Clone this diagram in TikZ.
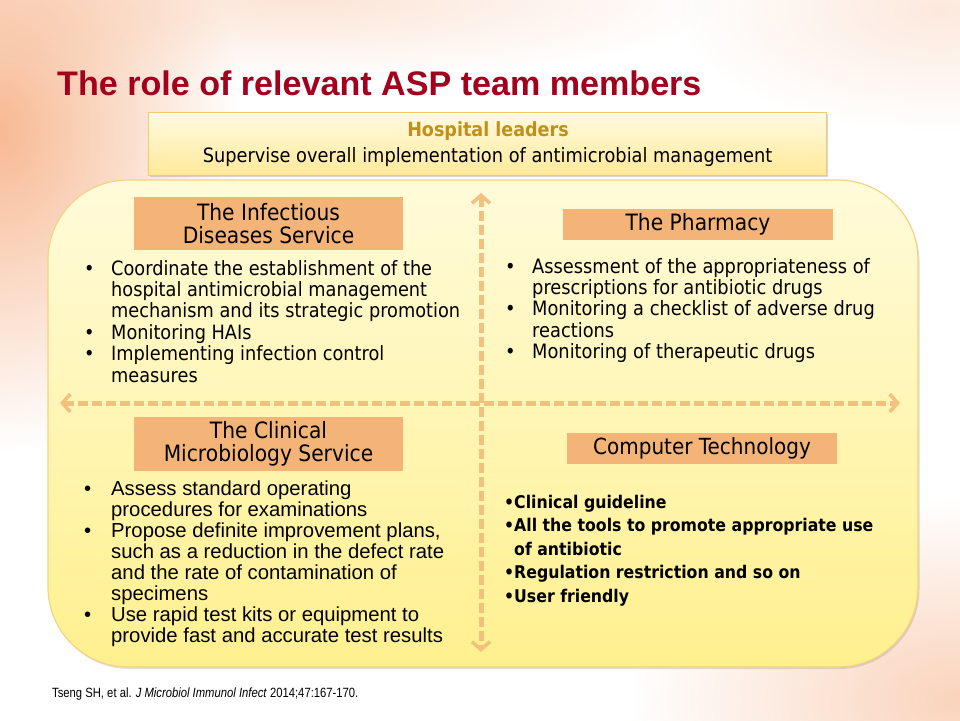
\documentclass[tikz,border=0pt]{standalone}
\usepackage{fontspec}
\setmainfont{Liberation Sans}
\newfontfamily\narrowf[FakeStretch=0.84]{Liberation Sans}
\newfontfamily\tahf[FakeStretch=0.9]{DejaVu Sans}
\usetikzlibrary{arrows.meta,fadings,shadows}
\definecolor{titlered}{HTML}{A3001E}
\definecolor{goldtext}{HTML}{C38F1A}
\definecolor{hdrfill}{HTML}{F4B478}
\definecolor{arrowc}{HTML}{F4C07E}
\definecolor{panelborder}{HTML}{F5D383}
\definecolor{paneltop}{HTML}{FFFBDA}
\definecolor{panelbot}{HTML}{FFF08E}
\definecolor{boxtop}{HTML}{FFFBE2}
\definecolor{boxbot}{HTML}{FFE999}
\definecolor{boxborder}{HTML}{F6C870}
\definecolor{bgorange}{HTML}{F6A878}
\tikzfading[name=radfade, inner color=transparent!0, outer color=transparent!100]
\tikzset{
  hdr/.style={fill=hdrfill, inner sep=0pt, align=center, text=black},
  dasharrow/.style={draw=arrowc, line width=5pt, dash pattern=on 10pt off 4pt,
    {Straight Barb[length=8pt,width=18pt,line width=3.5pt]}-{Straight Barb[length=8pt,width=18pt,line width=3.5pt]}},
  blist/.style={anchor=base west, inner sep=0pt, text=black},
}
\begin{document}
\begin{tikzpicture}[x=1pt,y=-1pt]
\useasboundingbox (0,0) rectangle (960,720);
\fill[white] (0,0) rectangle (960,720);
% background decoration
\fill[bgorange, path fading=radfade, fill opacity=0.8] (0,130) ellipse [x radius=240, y radius=320];
\fill[bgorange, path fading=radfade, fill opacity=0.3] (300,0) ellipse [x radius=420, y radius=80];
\fill[bgorange, path fading=radfade, fill opacity=0.5] (960,700) ellipse [x radius=330, y radius=200];
\fill[bgorange, path fading=radfade, fill opacity=0.25] (940,10) ellipse [x radius=260, y radius=120];
% title
\node[anchor=base west, inner sep=0pt, text=titlered, font=\bfseries\fontsize{34.1}{40}\selectfont] (title) at (57,95) {The role of relevant ASP team members};
% main panel
\node[draw=panelborder, line width=1.2pt, rounded corners=80pt, top color=paneltop, bottom color=panelbot,
  minimum width=870pt, minimum height=487pt, drop shadow={opacity=0.25, shadow xshift=1.5pt, shadow yshift=-2pt}] (panel) at (483,423.5) {};
% top box
\node[draw=boxborder, line width=1pt, top color=boxtop, bottom color=boxbot, minimum width=678pt, minimum height=63pt,
  drop shadow={opacity=0.3, shadow xshift=1.5pt, shadow yshift=-2pt}] (leaders) at (487,143.5) {};
\node[text=goldtext, font=\tahf\bfseries\fontsize{19.5}{22}\selectfont, inner sep=0pt] (leadtitle) at (488,131) {Hospital leaders};
\node[text=black, font=\tahf\fontsize{19.75}{22}\selectfont, inner sep=0pt] (leadtext) at (487.5,157) {Supervise overall implementation of antimicrobial management};
% arrows
\coordinate (vtop) at (481,193);
\coordinate (vbot) at (481,652);
\coordinate (hleft) at (60,403);
\coordinate (hright) at (900,403);
\draw[dasharrow] (hleft) -- (hright);
\draw[dasharrow] (vtop) -- (vbot);
% headers
\node[hdr, minimum width=269pt, minimum height=53pt, font=\tahf\fontsize{22.5}{23}\selectfont] (ids) at (268.5,223.5) {The Infectious\\Diseases Service};
\node[hdr, minimum width=270pt, minimum height=31pt, font=\tahf\fontsize{22.5}{23}\selectfont] (pharm) at (698,224.5) {The Pharmacy};
\node[hdr, minimum width=269pt, minimum height=54pt, font=\tahf\fontsize{22.5}{23}\selectfont] (cms) at (268.5,444) {The Clinical\\Microbiology Service};
\node[hdr, minimum width=270pt, minimum height=31pt, font=\tahf\fontsize{22.2}{23}\selectfont] (comp) at (702,448.5) {Computer Technology};
% lists
\node[blist, font=\tahf\fontsize{19.7}{21.4}\selectfont] (ql1) at (84,275) {%
\begin{tabular}[t]{@{}p{27pt}@{}l@{}}
• & Coordinate the establishment of the\\
  & hospital antimicrobial management\\
  & mechanism and its strategic promotion\\
• & Monitoring HAIs\\
• & Implementing infection control\\
  & measures
\end{tabular}};
\node[blist, font=\tahf\fontsize{19.8}{21.1}\selectfont] (ql2) at (505,273) {%
\begin{tabular}[t]{@{}p{27pt}@{}l@{}}
• & Assessment of the appropriateness of\\
  & prescriptions for antibiotic drugs\\
• & Monitoring a checklist of adverse drug\\
  & reactions\\
• & Monitoring of therapeutic drugs
\end{tabular}};
\node[blist, font=\fontsize{20.3}{21.1}\selectfont] (ql3) at (84,495) {%
\begin{tabular}[t]{@{}p{27pt}@{}l@{}}
• & Assess standard operating\\
  & procedures for examinations\\
• & Propose definite improvement plans,\\
  & such as a reduction in the defect rate\\
  & and the rate of contamination of\\
  & specimens\\
• & Use rapid test kits or equipment to\\
  & provide fast and accurate test results
\end{tabular}};
\node[blist, font=\tahf\bfseries\fontsize{17.5}{23.5}\selectfont] (ql4) at (504,508) {%
\begin{tabular}[t]{@{}p{10pt}@{}l@{}}
• & Clinical guideline\\
• & All the tools to promote appropriate use\\
  & of antibiotic\\
• & Regulation restriction and so on\\
• & User friendly
\end{tabular}};
% citation
\node[anchor=base west, inner sep=0pt, font=\narrowf\fontsize{13.4}{15}\selectfont] (cite) at (52,697) {Tseng SH, et al. \textit{J Microbiol Immunol Infect} 2014;47:167-170.};
\end{tikzpicture}
\end{document}
